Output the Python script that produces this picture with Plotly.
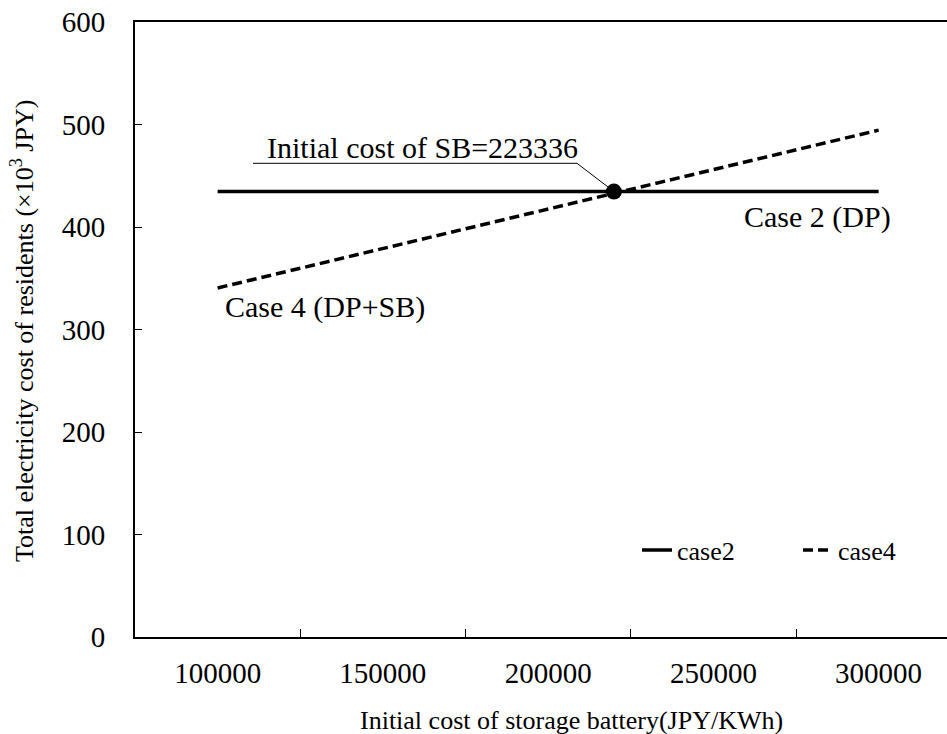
import plotly.graph_objects as go

# Data
battery_cost = [100000, 150000, 200000, 250000, 300000]
case2_cost = [434.6, 434.6, 434.6, 434.6, 434.6]
case4_cost = [340.5, 379.0, 417.5, 456.0, 494.5]
intersect_x = [219900]
intersect_y = [434.6]
x_tick_labels = ["100000", "150000", "200000", "250000", "300000"]
x_boundaries = [125000, 175000, 225000, 275000, 325000]
y_ticks = [0, 100, 200, 300, 400, 500, 600]

FONT = "Liberation Serif"

fig = go.Figure()
fig.add_trace(go.Scatter(x=battery_cost, y=case2_cost, mode="lines", name="case2",
                         line=dict(color="black", width=3.5)))
fig.add_trace(go.Scatter(x=battery_cost, y=case4_cost, mode="lines", name="case4",
                         line=dict(color="black", width=3.5, dash="10px,5px")))
fig.add_trace(go.Scatter(x=intersect_x, y=intersect_y, mode="markers", showlegend=False,
                         marker=dict(color="black", size=16)))

W, H = 947, 734
L, T, B, R = 135, 22, 97, 0
pw = W - L - R
ph = H - T - B

def px(x):  # page px -> paper
    return (x - L) / pw

def py(y):
    return (T + ph - y) / ph

fig.update_layout(
    width=W, height=H,
    margin=dict(l=L, r=R, t=T, b=B, autoexpand=False),
    paper_bgcolor="white", plot_bgcolor="white",
    font=dict(family=FONT, color="black", size=29),
    xaxis=dict(range=[75000, 75000 + pw / 165.25 * 50000],
               tickvals=battery_cost, ticktext=x_tick_labels, ticks="",
               showgrid=False, zeroline=False, showline=True, linecolor="black",
               linewidth=2, mirror=True, ticklabelstandoff=9,
               tickfont=dict(size=29, family=FONT),
               minor=dict(tickvals=x_boundaries, ticks="inside", ticklen=8,
                          tickwidth=1, tickcolor="black", showgrid=False)),
    yaxis=dict(range=[0, 600], tickvals=y_ticks, ticks="inside", ticklen=7,
               tickwidth=1, tickcolor="black", showgrid=False, zeroline=False,
               showline=True, linecolor="black", linewidth=2,
               ticklabelstandoff=22, tickfont=dict(size=29, family=FONT)),
    legend=dict(orientation="h", x=px(637), y=py(550), xanchor="left", yanchor="middle",
                font=dict(size=26, family=FONT), entrywidth=116, entrywidthmode="pixels",
                bgcolor="rgba(0,0,0,0)"),
    showlegend=True,
)

annos = [
    dict(text="Initial cost of SB=223336", x=px(422), y=py(147), size=30),
    dict(text="Case 2 (DP)", x=px(817), y=py(217), size=30),
    dict(text="Case 4 (DP+SB)", x=px(325), y=py(307), size=30),
    dict(text="Initial cost of storage battery(JPY/KWh)", x=px(571), y=py(720), size=26),
]
for a in annos:
    fig.add_annotation(text=a["text"], x=a["x"], y=a["y"], xref="paper", yref="paper",
                       xanchor="center", yanchor="middle", showarrow=False,
                       font=dict(size=a["size"], family=FONT, color="black"))

fig.add_annotation(text="Total electricity cost of residents (×10<sup>3</sup> JPY)",
                   x=px(22), y=py(331), xref="paper", yref="paper", textangle=-90,
                   xanchor="center", yanchor="middle", showarrow=False,
                   font=dict(size=26, family=FONT, color="black"))

# leader line for the label
fig.add_shape(type="path", xref="paper", yref="paper",
              path=f"M {px(253)},{py(163.3)} L {px(577)},{py(163.3)} L {px(608)},{py(187)}",
              line=dict(color="black", width=1))

fig.write_html("out.html", config={"displayModeBar": False},
               post_script="document.body.style.margin='0';document.body.style.overflow='hidden';")
